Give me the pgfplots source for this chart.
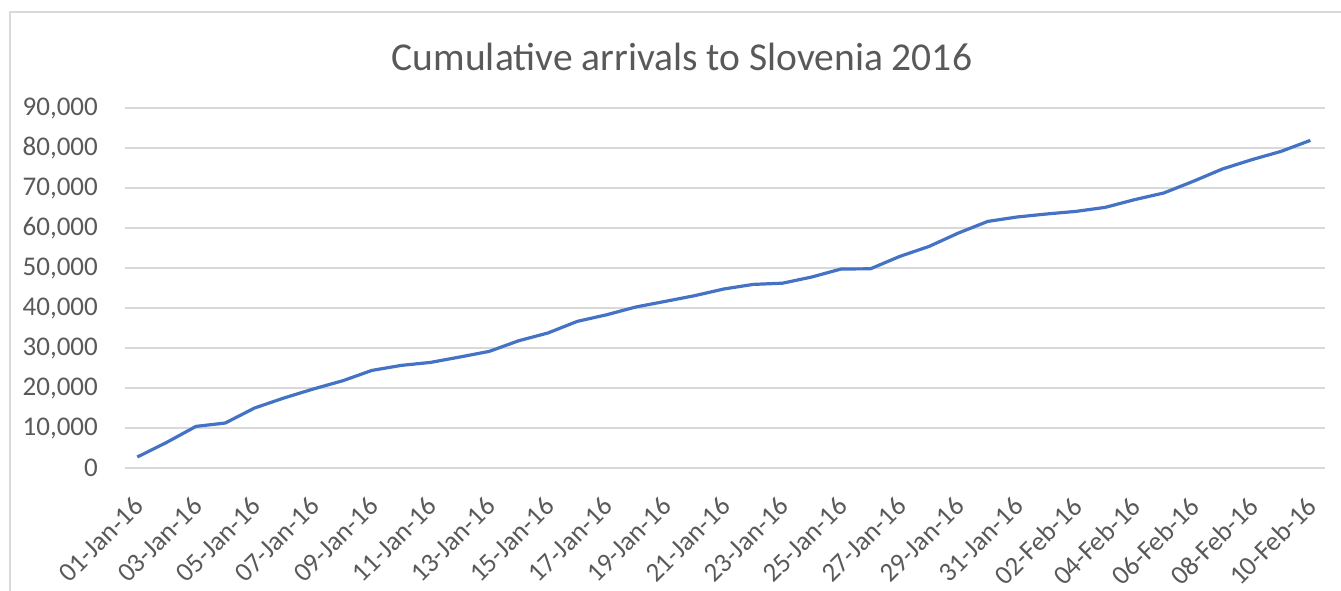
\documentclass[border=0pt]{standalone}
\usepackage{pgfplots}
\pgfplotsset{compat=1.18}
\usepackage{fontspec}
\setmainfont{Carlito}
\definecolor{lineblue}{HTML}{4472C4}
\definecolor{gridgray}{HTML}{D9D9D9}
\definecolor{textgray}{HTML}{595959}
\begin{document}
\begin{tikzpicture}
\useasboundingbox (-125pt,-123pt) rectangle (1216pt,468pt);
\draw[gridgray, line width=1.2pt] (-115pt,-140pt) -- (-115pt,456pt) -- (1240pt,456pt);
\begin{axis}[
  at={(0,0)}, anchor=south west,
  scale only axis, width=1200pt, height=360pt,
  xmin=-0.42, xmax=40.5, ymin=0, ymax=90000,
  axis line style={draw=none},
  tick style={draw=none},
  scaled y ticks=false,
  ymajorgrids, grid style={gridgray, line width=1.2pt},
  ytick={0,10000,...,90000},
  xtick={0,2,...,40},
  xticklabels={01-Jan-16,03-Jan-16,05-Jan-16,07-Jan-16,09-Jan-16,11-Jan-16,13-Jan-16,15-Jan-16,17-Jan-16,19-Jan-16,21-Jan-16,23-Jan-16,25-Jan-16,27-Jan-16,29-Jan-16,31-Jan-16,02-Feb-16,04-Feb-16,06-Feb-16,08-Feb-16,10-Feb-16},
  yticklabels={0,{10,000},{20,000},{30,000},{40,000},{50,000},{60,000},{70,000},{80,000},{90,000}},
  tick label style={font=\fontsize{27}{30}\selectfont, text=textgray, inner sep=0pt},
  yticklabel style={anchor=east, xshift=-27pt},
  xticklabel style={xshift=-5pt, yshift=-27pt, rotate=45, anchor=north east},
]
\addplot[lineblue, line width=3.2pt, line join=round] coordinates {
(0,2750) (1,6400) (2,10400) (3,11250) (4,15000) (5,17500) (6,19750) (7,21800)
(8,24400) (9,25650) (10,26400) (11,27750) (12,29150) (13,31800) (14,33750)
(15,36650) (16,38300) (17,40250) (18,41650) (19,43075) (20,44750) (21,45900)
(22,46200) (23,47750) (24,49750) (25,49800) (26,52900) (27,55400) (28,58750)
(29,61650) (30,62750) (31,63500) (32,64150) (33,65150) (34,67075) (35,68750)
(36,71650) (37,74750) (38,77075) (39,79150) (40,81900)
};
\end{axis}
\node[text=textgray, font=\fontsize{39.5}{44}\selectfont] at (557pt,411pt) {Cumulative arrivals to Slovenia 2016};
\end{tikzpicture}
\end{document}
